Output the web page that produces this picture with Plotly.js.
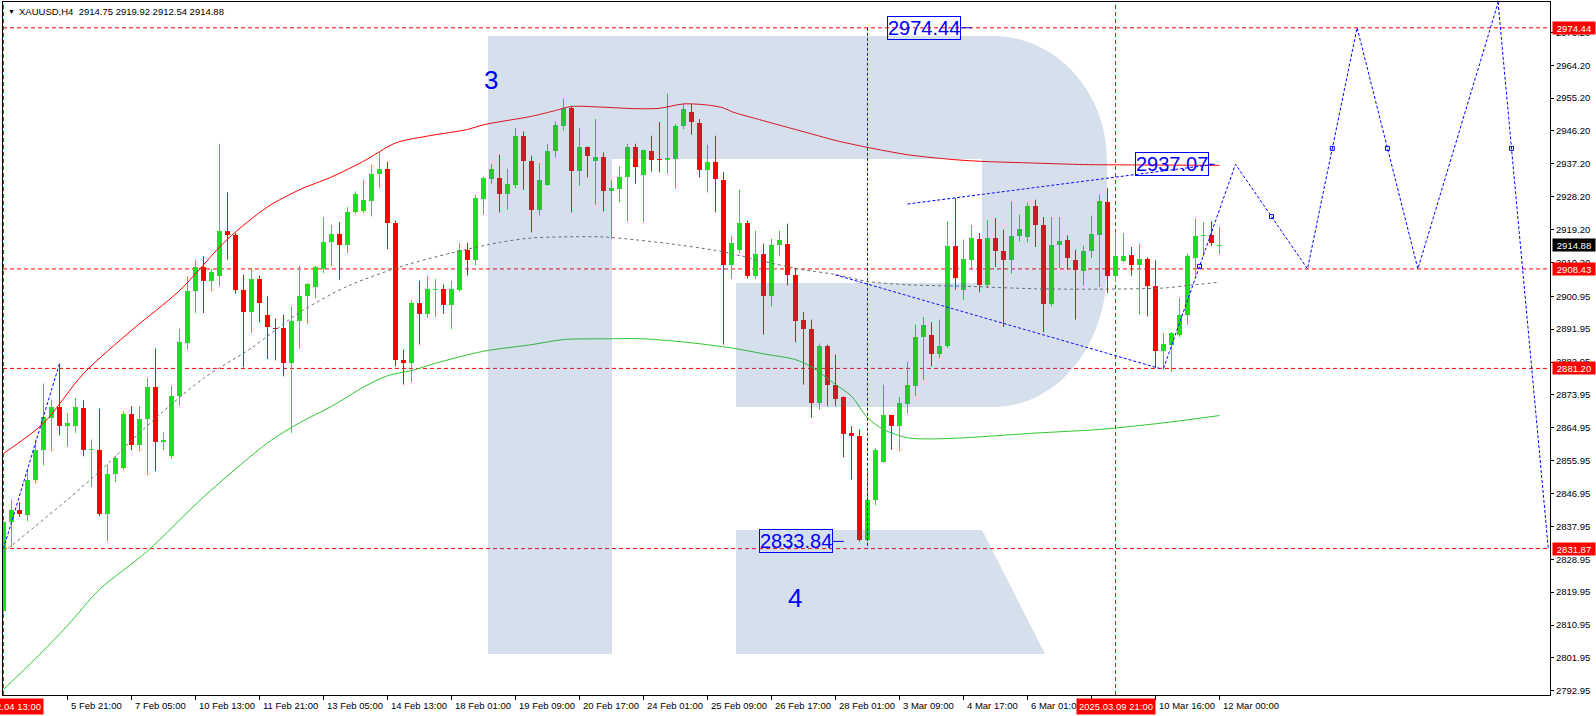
<!DOCTYPE html>
<html><head><meta charset="utf-8">
<script src="https://cdn.plot.ly/plotly-3.0.1.min.js"></script>
<style>html,body{margin:0;padding:0;background:#fff;}#chart{width:1596px;height:716px;}</style>
</head><body><div id="chart"></div>
<script>
// ---- Data (XAUUSD H4, bar index 0 = 2025.02.04 13:00) ----
const opens = [2814.75,2839.19,2842.56,2841.19,2850.59,2858.80,2867.55,2870.74,2865.36,2865.36,2870.47,2858.80,2858.98,2841.47,2852.41,2853.96,2868.83,2860.35,2867.37,2876.03,2860.98,2857.15,2873.57,2888.16,2902.30,2908.86,2905.03,2906.40,2918.90,2917.80,2902.75,2896.55,2905.76,2895.91,2892.36,2892.36,2882.69,2894.09,2900.93,2903.39,2908.50,2915.80,2918.08,2914.88,2923.91,2924.19,2926.92,2934.40,2935.86,2920.99,2883.60,2882.69,2899.11,2896.19,2902.75,2902.94,2898.47,2902.75,2913.70,2910.96,2927.65,2933.12,2933.31,2929.02,2931.48,2944.89,2938.05,2924.64,2931.48,2940.60,2947.62,2952.46,2935.13,2941.79,2937.87,2939.05,2929.66,2930.39,2933.49,2941.79,2934.04,2940.78,2938.60,2938.32,2938.60,2947.44,2951.36,2948.35,2935.59,2937.78,2932.85,2909.41,2913.52,2920.99,2906.40,2912.60,2900.93,2914.88,2915.34,2906.86,2894.36,2892.09,2871.75,2887.44,2876.77,2873.30,2863.54,2862.81,2834.20,2845.12,2855.61,2868.38,2865.37,2871.57,2876.31,2889.81,2890.45,2885.25,2887.26,2914.80,2902.76,2910.97,2916.71,2904.13,2916.90,2913.43,2910.79,2917.35,2917.08,2925.74,2920.54,2898.93,2914.89,2916.44,2910.97,2907.78,2913.25,2917.81,2926.65,2906.41,2910.51,2912.34,2909.60,2911.24,2903.67,2885.89,2887.71,2890.45,2895.74,2911.42,2917.35,2917.81,2914.75];
const highs = [2839.50,2845.30,2844.57,2853.69,2861.71,2877.04,2872.66,2882.51,2869.01,2873.11,2872.48,2861.71,2870.20,2854.87,2857.34,2869.47,2870.83,2870.83,2878.59,2886.61,2863.72,2876.49,2892.08,2906.40,2910.96,2911.87,2908.41,2942.70,2929.38,2918.26,2906.86,2908.68,2906.68,2900.93,2894.82,2895.91,2898.19,2909.32,2904.58,2909.32,2922.64,2920.54,2921.27,2925.37,2929.66,2932.85,2936.95,2940.33,2937.77,2921.63,2886.34,2899.84,2905.22,2906.58,2905.67,2904.12,2905.22,2915.52,2915.52,2928.75,2933.76,2937.23,2939.69,2935.86,2946.99,2946.07,2939.42,2937.41,2942.61,2948.81,2955.01,2953.10,2946.99,2941.97,2949.45,2940.33,2932.85,2936.50,2942.70,2942.70,2941.06,2944.89,2948.63,2956.38,2948.08,2953.64,2953.64,2949.45,2942.43,2944.89,2934.95,2917.53,2930.11,2921.63,2918.90,2915.34,2916.71,2918.90,2920.81,2908.68,2896.64,2894.55,2888.00,2887.71,2884.98,2873.50,2865.37,2864.46,2853.51,2859.44,2876.77,2868.56,2873.39,2882.97,2893.18,2895.28,2893.82,2894.55,2921.46,2927.84,2916.44,2920.54,2918.26,2921.73,2922.37,2919.18,2926.93,2923.28,2926.65,2927.38,2922.64,2922.64,2922.64,2917.63,2913.70,2914.80,2923.01,2928.75,2930.58,2918.45,2918.26,2914.43,2915.35,2911.61,2910.79,2890.90,2891.09,2900.48,2912.61,2922.19,2921.18,2921.46,2919.92];
const lows = [2814.20,2832.35,2840.56,2839.37,2849.68,2854.69,2858.52,2862.90,2859.71,2863.54,2857.15,2848.67,2840.74,2833.90,2850.04,2853.51,2858.80,2858.52,2851.96,2853.05,2858.80,2856.42,2871.02,2886.34,2896.37,2896.37,2902.30,2903.67,2910.96,2901.66,2881.50,2890.90,2893.82,2883.78,2883.42,2879.04,2863.54,2886.61,2893.36,2900.47,2907.31,2909.14,2905.49,2912.79,2923.55,2923.73,2922.82,2930.57,2913.88,2881.78,2876.76,2877.40,2887.71,2895.00,2895.28,2896.19,2891.99,2902.30,2906.68,2909.41,2923.27,2931.76,2923.91,2924.64,2930.57,2930.11,2918.44,2923.09,2931.21,2938.96,2946.35,2923.91,2931.21,2933.49,2926.01,2924.19,2916.62,2926.65,2921.45,2931.76,2921.18,2935.13,2934.86,2934.49,2930.39,2946.71,2945.16,2933.49,2929.38,2923.91,2887.71,2905.67,2912.79,2905.80,2905.67,2890.44,2898.19,2911.87,2903.94,2888.34,2876.76,2867.65,2869.93,2870.84,2870.84,2856.89,2850.78,2833.84,2833.84,2843.75,2855.34,2858.98,2858.53,2868.83,2873.58,2877.95,2881.78,2884.06,2886.80,2902.76,2900.02,2908.23,2902.03,2903.22,2908.96,2892.55,2907.14,2915.98,2915.71,2914.43,2891.09,2898.20,2908.69,2908.23,2894.55,2903.85,2911.42,2903.49,2901.85,2905.04,2910.24,2906.59,2895.92,2895.46,2881.33,2880.87,2880.23,2889.81,2893.18,2906.59,2911.88,2914.62,2912.54];
const closes = [2839.19,2842.56,2841.47,2850.77,2858.98,2867.92,2870.65,2865.36,2866.27,2870.74,2858.80,2859.16,2841.47,2852.41,2856.70,2868.83,2860.35,2867.46,2876.03,2860.98,2861.71,2873.75,2888.34,2902.48,2908.86,2905.03,2907.59,2918.90,2917.62,2902.57,2896.55,2905.76,2899.01,2892.45,2892.08,2882.69,2894.27,2901.11,2904.21,2908.96,2915.89,2918.08,2914.88,2924.09,2929.02,2927.38,2934.49,2935.86,2920.90,2883.42,2882.69,2899.11,2896.19,2902.94,2903.03,2898.47,2902.94,2913.70,2910.96,2927.83,2933.31,2935.77,2929.02,2931.76,2944.89,2937.87,2924.64,2932.85,2940.78,2947.90,2952.46,2935.13,2941.79,2939.42,2939.05,2929.66,2930.57,2933.58,2941.79,2936.22,2940.88,2938.32,2938.14,2938.78,2947.62,2952.28,2948.54,2935.59,2937.78,2933.03,2909.41,2915.52,2920.99,2906.40,2912.60,2900.93,2915.07,2916.43,2906.68,2894.09,2891.99,2871.75,2887.44,2876.77,2872.94,2863.36,2862.63,2834.20,2845.30,2858.98,2868.38,2865.37,2871.75,2876.77,2889.81,2893.18,2885.25,2887.26,2914.80,2905.95,2911.24,2916.90,2904.13,2916.90,2913.25,2910.79,2917.35,2919.45,2925.74,2920.54,2898.93,2915.07,2916.17,2911.33,2908.05,2913.43,2918.08,2926.93,2906.41,2912.06,2912.06,2909.60,2911.24,2903.67,2885.89,2887.99,2890.90,2895.92,2911.88,2917.53,2917.81,2915.53,2914.88];

// Moving-average style lines (bar index, price)
const redMAIdx = [0,5,10,16,22,28,33,37,41,45,49,53,58,60,66,69,71,75,79,82,85,88,90,91,95,101,104,108,113,118,122,129,135,141,152];
const redMAVal = [2857.9,2866.2,2879.8,2891.6,2902.5,2916.6,2925.4,2930.1,2933.6,2937.9,2942.9,2944.8,2946.6,2947.9,2950.2,2951.8,2952.9,2952.7,2952.3,2952.4,2953.6,2953.3,2952.5,2951.5,2949.0,2945.4,2943.6,2941.7,2939.7,2938.5,2937.9,2937.4,2937.0,2936.9,2936.8];
const grayMAIdx = [0,8,13,16,20,25,31,37,43,50,56,62,66,70,75,79,83,89,91,95,100,104,108,113,120,129,137,145,148,152];
const grayMAVal = [2830.9,2845.3,2855.0,2861.5,2869.5,2878.5,2886.8,2896.5,2903.7,2909.3,2912.8,2915.7,2916.9,2917.2,2917.2,2916.4,2915.4,2913.5,2912.6,2910.5,2908.2,2906.9,2905.0,2904.1,2903.7,2903.0,2902.9,2903.2,2903.9,2904.8];
const greenMAIdx = [0,4,8,12,18,25,33,37,41,45,48,51,54,60,66,70,75,80,86,91,95,99,101,104,106,108,110,113,116,120,129,137,145,152];
const greenMAVal = [2793.3,2801.8,2810.8,2820.7,2831.2,2846.0,2860.8,2866.3,2870.8,2876.1,2879.2,2880.6,2882.6,2885.9,2887.7,2889.1,2889.3,2889.3,2888.2,2886.8,2885.2,2883.6,2881.6,2876.8,2873.6,2867.7,2864.5,2862.2,2861.9,2862.2,2863.5,2864.5,2866.3,2868.3];

// Horizontal levels and vertical markers
const levels = [2974.44, 2908.43, 2881.20, 2831.87];
const lastPrice = 2914.88;
const vLineIdx = [0, 139];
const vLineText = ["2025.02.04 13:00", "2025.03.09 21:00"];

// Wave construction lines (bar index, price)
const waveUpIdx = [0, 7];            const waveUpVal = [2831.87, 2882.51];
const upperEdgeIdx = [113, 151.4];   const upperEdgeVal = [2926.2, 2937.07];
const lowerEdgeIdx = [104, 144.5];   const lowerEdgeVal = [2906.8, 2881.20];
const waveVIdx = [108, 108];         const waveVVal = [2974.44, 2831.87];
const forecastIdx = [145, 154, 163, 169.2, 176.8, 196.4];
const forecastVal = [2881.20, 2937.07, 2908.43, 2974.44, 2908.43, 3051.0];
const finalDropIdx = [183.9, 193.1];
const finalDropVal = [3051.0, 2831.87];

// Labels
const priceBoxes = [{t:"2974.44", x:115.04, y:2974.44, px:121, py:2974.44},
                    {t:"2833.84", x:99.1, y:2833.84, px:105.04, py:2833.84},
                    {t:"2937.07", x:146.0, y:2937.07, px:151.4, py:2937.07}];
const waveLabels = [{t:"3", x:60.9, y:2960.1}, {t:"4", x:98.9, y:2818.4}];

const timeTickIdx = [8,16,24,32,40,48,56,64,72,80,88,96,104,112,120,128,136,144,152];
const timeTickText = ["5 Feb 21:00","7 Feb 05:00","10 Feb 13:00","11 Feb 21:00","13 Feb 05:00","14 Feb 13:00","18 Feb 01:00","19 Feb 09:00","20 Feb 17:00","24 Feb 01:00","25 Feb 09:00","26 Feb 17:00","28 Feb 01:00","3 Mar 09:00","4 Mar 17:00","6 Mar 01:00","","10 Mar 16:00","12 Mar 00:00"];
const priceTickVals = [2973.20,2964.20,2955.20,2946.20,2937.20,2928.20,2919.20,2910.20,2900.95,2891.95,2882.95,2873.95,2864.95,2855.95,2846.95,2837.95,2828.95,2819.95,2810.95,2801.95,2792.95];

// ---- Build ----
const FONT = "'Liberation Sans', Arial, sans-serif";
const GREEN = '#11e611', RED = '#ff0000', BLUE = '#0000ff';
const M = {l:3, r:46, t:2, b:21};
const PW = 1596 - M.l - M.r, PH = 716 - M.t - M.b;
const px2x = p => (p - M.l) / PW;
const px2y = p => 1 - (p - M.t) / PH;

const inc = {x:[], base:[], h:[]}, dec = {x:[], base:[], h:[]};
const wickG = {x:[], y:[]}, wickR = {x:[], y:[]};
for (let i = 0; i < opens.length; i++) {
  const o = opens[i], c = closes[i];
  const up = c >= o;
  const b = up ? inc : dec, w = up ? wickG : wickR;
  b.x.push(i); b.base.push(Math.min(o, c)); b.h.push(Math.max(Math.abs(c - o), 0.28));
  w.x.push(i, i, null); w.y.push(lows[i], highs[i], null);
}

const dashBlue = {color:BLUE, width:1, dash:'3px,2px'};
const traces = [
  {type:'scatter', mode:'lines', x:wickG.x, y:wickG.y, line:{color:GREEN, width:1}, hoverinfo:'skip'},
  {type:'scatter', mode:'lines', x:wickR.x, y:wickR.y, line:{color:RED, width:1}, hoverinfo:'skip'},
  {type:'bar', x:inc.x, y:inc.h, base:inc.base, width:0.62, marker:{color:GREEN, line:{width:0}}, hoverinfo:'skip'},
  {type:'bar', x:dec.x, y:dec.h, base:dec.base, width:0.62, marker:{color:RED, line:{width:0}}, hoverinfo:'skip'},
  {type:'scatter', mode:'lines', x:grayMAIdx, y:grayMAVal, line:{color:'#707070', width:1, dash:'3px,3px', shape:'spline', smoothing:0.8}, hoverinfo:'skip'},
  {type:'scatter', mode:'lines', x:greenMAIdx, y:greenMAVal, line:{color:'#2ec82e', width:1, shape:'spline', smoothing:0.8}, hoverinfo:'skip'},
  {type:'scatter', mode:'lines', x:redMAIdx, y:redMAVal, line:{color:'#ff0000', width:1, shape:'spline', smoothing:0.8}, hoverinfo:'skip'},
  {type:'scatter', mode:'lines', x:waveUpIdx, y:waveUpVal, line:dashBlue, hoverinfo:'skip'},
  {type:'scatter', mode:'lines', x:upperEdgeIdx, y:upperEdgeVal, line:dashBlue, hoverinfo:'skip'},
  {type:'scatter', mode:'lines', x:lowerEdgeIdx, y:lowerEdgeVal, line:dashBlue, hoverinfo:'skip'},
  {type:'scatter', mode:'lines', x:waveVIdx, y:waveVVal, line:dashBlue, hoverinfo:'skip'},
  {type:'scatter', mode:'lines', x:forecastIdx, y:forecastVal, line:dashBlue, hoverinfo:'skip'},
  {type:'scatter', mode:'lines', x:finalDropIdx, y:finalDropVal, line:dashBlue, hoverinfo:'skip'},
];
// small square markers at segment midpoints of the forecast path
const midX = [], midY = [];
for (let i = 1; i < forecastIdx.length - 1; i++) { midX.push((forecastIdx[i-1]+forecastIdx[i])/2); midY.push((forecastVal[i-1]+forecastVal[i])/2); }
midX.push((finalDropIdx[0]+finalDropIdx[1])/2); midY.push((finalDropVal[0]+finalDropVal[1])/2);
traces.push({type:'scatter', mode:'markers', x:midX, y:midY, marker:{symbol:'square-open', size:4, color:BLUE, line:{width:1, color:BLUE}}, hoverinfo:'skip'});

const shapes = [];
levels.forEach(v => shapes.push({type:'line', layer:'below', xref:'paper', x0:0, x1:1, yref:'y', y0:v, y1:v, line:{color:RED, width:1, dash:'4px,3px'}}));
vLineIdx.forEach(k => shapes.push({type:'line', layer:'below', xref:'x', x0:k, x1:k, yref:'paper', y0:0, y1:1, line:{color:RED, width:1, dash:'4px,3px'}}));

// Watermark "R" logo (decoration, drawn in pixel space over the plot)
const P = (x, y) => px2x(x).toFixed(5) + ',' + px2y(y).toFixed(5);
const rPath = `M${P(488,36)} L${P(993,36)} C${P(1056,36)} ${P(1107,92)} ${P(1107,160)} L${P(1107,268)} C${P(1107,345)} ${P(1058,407)} ${P(993,407)} L${P(736,407)} L${P(736,283)} L${P(982,283)} L${P(982,159)} L${P(612,159)} L${P(612,654)} L${P(488,654)} Z M${P(736,530)} L${P(982,530)} L${P(1045,654)} L${P(736,654)} Z`;
shapes.push({type:'path', layer:'above', xref:'paper', yref:'paper', path:rPath, fillcolor:'rgba(62,106,165,0.21)', line:{width:0}});

const ann = [];
const f = (size, color) => ({family:FONT, size:size, color:color});
ann.push({xref:'paper', yref:'paper', x:px2x(6), y:px2y(11), xanchor:'left', yanchor:'middle', text:'▼', font:f(7,'#000'), showarrow:false});
ann.push({xref:'paper', yref:'paper', x:px2x(17), y:px2y(11), xanchor:'left', yanchor:'middle', text:`XAUUSD,H4  ${opens.at(-1).toFixed(2)} ${highs.at(-1).toFixed(2)} ${lows.at(-1).toFixed(2)} ${closes.at(-1).toFixed(2)}`, font:f(9.5,'#000'), showarrow:false});
waveLabels.forEach(w => ann.push({x:w.x, y:w.y, xref:'x', yref:'y', text:w.t, font:f(26, BLUE), showarrow:false}));
priceBoxes.forEach(b => {
  ann.push({x:b.px, y:b.py, xref:'x', yref:'y', text:b.t, font:f(20, BLUE), bordercolor:BLUE, borderwidth:1, borderpad:0,
    showarrow:true, arrowhead:0, arrowwidth:1, arrowcolor:BLUE, standoff:0, ax:(b.x - b.px) * 8, ay:0, axref:'pixel', ayref:'pixel'});
});
// right axis price boxes
levels.forEach(v => ann.push({xref:'paper', x:1, xanchor:'left', xshift:2, yref:'y', y:v, yanchor:'middle', text:v.toFixed(2), font:f(9.5,'#fff'), bgcolor:RED, width:40, height:10, borderpad:1, showarrow:false}));
ann.push({xref:'paper', x:1, xanchor:'left', xshift:2, yref:'y', y:lastPrice, yanchor:'middle', text:lastPrice.toFixed(2), font:f(9.5,'#fff'), bgcolor:'#000', width:40, height:10, borderpad:1, showarrow:false});
// bottom time labels
timeTickIdx.forEach((k, i) => { if (timeTickText[i]) ann.push({xref:'x', x:k, xanchor:'left', xshift:1, yref:'paper', y:0, yanchor:'top', yshift:-3, text:timeTickText[i], font:f(9.5,'#000'), showarrow:false}); });
vLineIdx.forEach((k, i) => ann.push({xref:'x', x:k, xanchor:'center', yref:'paper', y:0, yanchor:'top', yshift:-3, text:vLineText[i], font:f(9.5,'#fff'), bgcolor:RED, width:76, height:13, borderpad:1, showarrow:false}));

const layout = {
  width:1596, height:716, margin:{l:M.l, r:M.r, t:M.t, b:M.b, pad:0},
  paper_bgcolor:'#fff', plot_bgcolor:'#fff', showlegend:false, barmode:'overlay', bargap:0,
  font:{family:FONT, size:9.5, color:'#000'},
  xaxis:{range:[-0.0625, 193.3125], showgrid:false, zeroline:false, showline:true, mirror:true, linecolor:'#000', linewidth:1,
    ticks:'outside', ticklen:4, tickcolor:'#000', tickvals:timeTickIdx, showticklabels:false, fixedrange:true},
  yaxis:{range:[2791.8, 2981.5], side:'right', showgrid:false, zeroline:false, showline:true, mirror:true, linecolor:'#000', linewidth:1,
    ticks:'outside', ticklen:3, tickcolor:'#000', tickvals:priceTickVals, ticktext:priceTickVals.map(v => v.toFixed(2)),
    tickfont:f(9.5,'#000'), fixedrange:true},
  shapes:shapes, annotations:ann
};
Plotly.newPlot('chart', traces, layout, {displayModeBar:false, staticPlot:true});
</script></body></html>
